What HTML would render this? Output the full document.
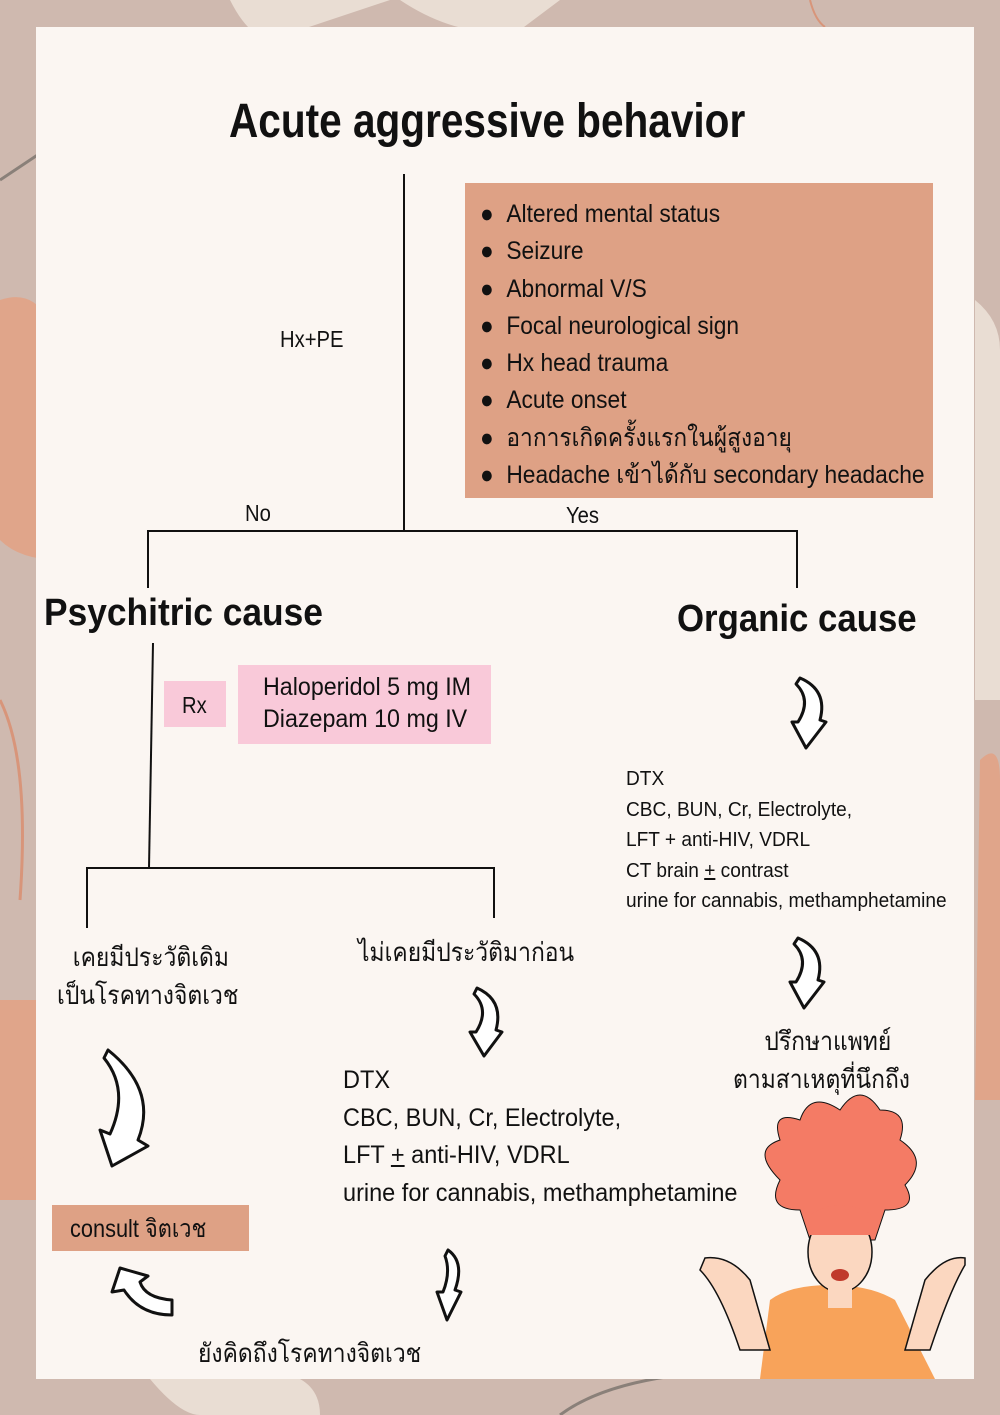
<!DOCTYPE html>
<html><head><meta charset="utf-8"><style>
body{margin:0;width:1000px;height:1415px;overflow:hidden;background:#cfb9af;position:relative;font-family:"Liberation Sans","Noto Sans CJK SC",sans-serif;}
.t{position:absolute;white-space:nowrap;transform-origin:0 0;color:#111;}
.l{position:absolute;background:#111;}
.box{position:absolute;}
</style></head><body>
<svg style="position:absolute;left:0;top:0" width="1000" height="1415">
<path d="M230 0 Q260 60 300 30 L390 0Z" fill="#e9ddd3"/>
<path d="M400 0 Q460 40 520 30 L560 0Z" fill="#e9ddd3"/>
<path d="M0 300 Q60 280 60 400 L60 560 Q20 560 0 540Z" fill="#e0a58a"/>
<path d="M0 1000 L40 1000 L40 1200 L0 1200Z" fill="#e0a58a"/>
<circle cx="18" cy="1145" r="14" fill="#e0a58a"/>
<path d="M980 760 Q1000 740 1000 780 L1000 1100 L975 1100Z" fill="#e0a58a"/>
<path d="M975 300 Q1000 320 1000 350 L1000 700 L975 700Z" fill="#e9ddd3"/>
<path d="M150 1379 Q180 1415 200 1415 L320 1415 Q320 1390 300 1379Z" fill="#e9ddd3"/>
<path d="M0 180 Q30 160 60 140" stroke="#8a8079" stroke-width="3" fill="none"/>
<path d="M560 1415 Q600 1385 680 1375" stroke="#8a8079" stroke-width="3" fill="none"/>
<path d="M810 0 Q815 20 825 27" stroke="#d8957a" stroke-width="2" fill="none"/>
<path d="M0 700 Q30 760 20 900" stroke="#d8957a" stroke-width="3" fill="none"/>
<rect x="36" y="27" width="938" height="1352" fill="#fbf6f2"/>
</svg>

<div class="t" style="left:229px;top:94px;font-size:48px;font-weight:bold;transform:scaleX(0.845)">Acute aggressive behavior</div>

<div class="l" style="left:403px;top:174px;width:2px;height:357px"></div>
<div class="l" style="left:147px;top:530px;width:651px;height:2px"></div>
<div class="l" style="left:147px;top:530px;width:2px;height:58px"></div>
<div class="l" style="left:796px;top:530px;width:2px;height:58px"></div>
<svg style="position:absolute;left:0;top:0" width="1000" height="1415"><line x1="153" y1="643" x2="149" y2="868" stroke="#111" stroke-width="2"/></svg>
<div class="l" style="left:86px;top:867px;width:409px;height:2px"></div>
<div class="l" style="left:86px;top:867px;width:2px;height:61px"></div>
<div class="l" style="left:493px;top:867px;width:2px;height:51px"></div>

<div class="t" style="left:280px;top:326px;font-size:23px;transform:scaleX(0.88)">Hx+PE</div>
<div class="t" style="left:245px;top:500px;font-size:23px;transform:scaleX(0.88)">No</div>
<div class="t" style="left:566px;top:502px;font-size:23px;transform:scaleX(0.88)">Yes</div>

<div class="box" style="left:465px;top:183px;width:468px;height:315px;background:#dea185"></div>
<div style="position:absolute;left:480px;top:196px;font-size:25px;line-height:37.3px;color:#111">
<div class="t" style="position:relative;transform:scaleX(0.91)">●&nbsp;&nbsp;Altered mental status</div>
<div class="t" style="position:relative;transform:scaleX(0.91)">●&nbsp;&nbsp;Seizure</div>
<div class="t" style="position:relative;transform:scaleX(0.91)">●&nbsp;&nbsp;Abnormal V/S</div>
<div class="t" style="position:relative;transform:scaleX(0.91)">●&nbsp;&nbsp;Focal neurological sign</div>
<div class="t" style="position:relative;transform:scaleX(0.91)">●&nbsp;&nbsp;Hx head trauma</div>
<div class="t" style="position:relative;transform:scaleX(0.91)">●&nbsp;&nbsp;Acute onset</div>
<div class="t" style="position:relative;transform:scaleX(0.91)">●&nbsp;&nbsp;อาการเกิดครั้งแรกในผู้สูงอายุ</div>
<div class="t" style="position:relative;transform:scaleX(0.91)">●&nbsp;&nbsp;Headache เข้าได้กับ secondary headache</div>
</div>

<div class="t" style="left:44px;top:592px;font-size:38px;font-weight:bold;transform:scaleX(0.93)">Psychitric cause</div>
<div class="t" style="left:677px;top:598px;font-size:38px;font-weight:bold;transform:scaleX(0.915)">Organic cause</div>

<div class="box" style="left:164px;top:681px;width:62px;height:46px;background:#f9c9d9"></div>
<div class="t" style="left:182px;top:692px;font-size:23px;transform:scaleX(0.88)">Rx</div>
<div class="box" style="left:238px;top:665px;width:253px;height:79px;background:#f9c9d9"></div>
<div class="t" style="left:263px;top:671px;font-size:25px;line-height:32px;transform:scaleX(0.93)">Haloperidol 5 mg IM<br>Diazepam 10 mg IV</div>

<div class="t" style="left:626px;top:764px;font-size:20px;line-height:30.5px;transform:scaleX(0.955)">DTX<br>CBC, BUN, Cr, Electrolyte,<br>LFT + anti-HIV, VDRL<br>CT brain <u>+</u> contrast<br>urine for cannabis, methamphetamine</div>

<div class="t" style="left:57px;top:938px;font-size:26px;line-height:38px;text-align:center;transform:scaleX(0.88)">&nbsp;เคยมีประวัติเดิม<br>เป็นโรคทางจิตเวช</div>
<div class="t" style="left:358px;top:932px;font-size:26px;transform:scaleX(0.88)">ไม่เคยมีประวัติมาก่อน</div>

<div class="t" style="left:343px;top:1062px;font-size:25px;line-height:37.5px;transform:scaleX(0.94)">DTX<br>CBC, BUN, Cr, Electrolyte,<br>LFT <u>+</u> anti-HIV, VDRL<br>urine for cannabis, methamphetamine</div>

<div class="t" style="left:733px;top:1022px;font-size:26px;line-height:38px;text-align:center;transform:scaleX(0.88)">&nbsp;&nbsp;ปรึกษาแพทย์<br>ตามสาเหตุที่นึกถึง</div>

<div class="box" style="left:52px;top:1205px;width:197px;height:46px;background:#dea185"></div>
<div class="t" style="left:70px;top:1209px;font-size:25px;transform:scaleX(0.87)">consult จิตเวช</div>
<div class="t" style="left:198px;top:1333px;font-size:26px;transform:scaleX(0.88)">ยังคิดถึงโรคทางจิตเวช</div>

<svg style="position:absolute;left:0;top:0" width="1000" height="1415" fill="#fff" stroke="#111" stroke-width="3" stroke-linejoin="round">
<path d="M800 678 Q828 690 820 720 L826 722 L806 748 L792 722 L798 722 Q812 700 796 684Z"/>
<path d="M798 938 Q826 950 818 980 L824 982 L804 1008 L790 982 L796 982 Q810 960 794 944Z"/>
<path d="M477 988 Q504 1000 496 1030 L502 1032 L484 1056 L470 1032 L476 1032 Q490 1010 474 994Z"/>
<path d="M108 1050 Q158 1090 138 1140 L148 1146 L112 1166 L100 1130 L110 1134 Q130 1090 104 1058Z"/>
<path d="M233 1250 Q250 1262 240 1290 L246 1292 L232 1320 L222 1292 L228 1292 Q236 1272 230 1256Z" transform="translate(215,0)"/>
<path d="M120 1268 L112 1292 L124 1290 Q140 1315 172 1315 L172 1300 Q145 1298 140 1282 L148 1276Z"/>
</svg>

<svg style="position:absolute;left:0;top:0" width="1000" height="1415">
<path d="M760 1379 L770 1300 Q790 1285 830 1285 Q870 1285 895 1300 L935 1379Z" fill="#f8a35a"/>
<path d="M700 1270 Q720 1290 740 1350 L770 1350 L750 1280 Q730 1255 705 1258Z" fill="#fbd7c0" stroke="#111" stroke-width="1.5"/>
<path d="M965 1265 Q950 1290 930 1350 L905 1350 L925 1280 Q945 1255 965 1258Z" fill="#fbd7c0" stroke="#111" stroke-width="1.5"/>
<path d="M780 1180 Q750 1150 780 1140 Q770 1110 800 1120 Q810 1090 840 1110 Q860 1080 880 1110 Q910 1110 900 1140 Q930 1160 905 1185 Q920 1210 885 1210 L875 1240 L810 1240 L800 1210 Q765 1210 780 1180Z" fill="#f47b65" stroke="#111" stroke-width="1"/>
<ellipse cx="840" cy="1252" rx="32" ry="40" fill="#fbd7c0" stroke="#111" stroke-width="1.5"/>
<rect x="828" y="1288" width="24" height="20" fill="#fbd7c0"/>
<path d="M810 1215 Q840 1195 872 1215 L872 1235 L810 1235Z" fill="#f47b65"/>
<ellipse cx="840" cy="1275" rx="9" ry="6" fill="#c0392b"/>
</svg>
</body></html>
